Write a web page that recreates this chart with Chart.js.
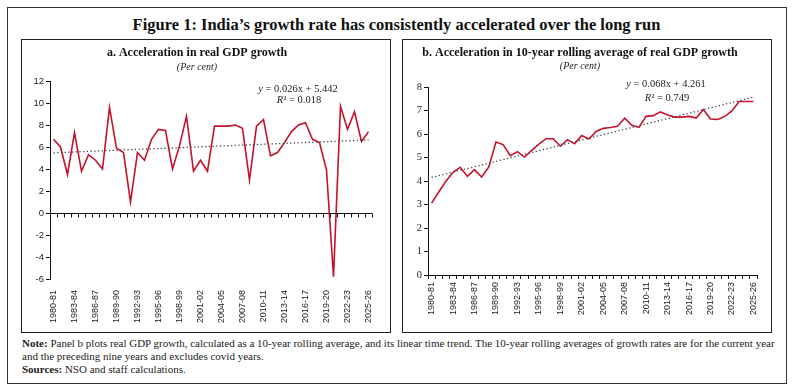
<!DOCTYPE html>
<html>
<head>
<meta charset="utf-8">
<script src="https://cdn.jsdelivr.net/npm/chart.js@4"></script>
<style>
  body { margin: 0; background: #fff; width: 793px; height: 391px; position: relative; overflow: hidden; }
  #frame { position: absolute; left: 7px; top: 7px; width: 780px; height: 377px; box-sizing: border-box; border: 1.5px solid #333; }
  #title { position: absolute; left: 0; top: 15px; width: 793px; text-align: center; font: bold 16.5px "Liberation Serif", serif; color: #111; line-height: 20px; }
  .panel { position: absolute; top: 39px; width: 370px; height: 294px; box-sizing: border-box; border: 1px solid #222; }
  .panel canvas { position: absolute; left: 0; top: 0; }
  #note { position: absolute; left: 22px; top: 337px; font: 11px "Liberation Serif", serif; color: #222; line-height: 13px; white-space: nowrap; }
</style>
</head>
<body>
<div id="frame"></div>
<div id="title">Figure 1: India’s growth rate has consistently accelerated over the long run</div>
<div class="panel" style="left:21px"><canvas id="chartA" width="368" height="292"></canvas></div>
<div class="panel" style="left:402px"><canvas id="chartB" width="368" height="292"></canvas></div>
<div id="note"><b>Note:</b> Panel b plots real GDP growth, calculated as a 10-year rolling average, and its linear time trend. The 10-year rolling averages of growth rates are for the current year<br>and the preceding nine years and excludes covid years.<br><b>Sources:</b> NSO and staff calculations.</div>

<script>
var years = ['1980-81', '1981-82', '1982-83', '1983-84', '1984-85', '1985-86', '1986-87', '1987-88', '1988-89', '1989-90',
        '1990-91', '1991-92', '1992-93', '1993-94', '1994-95', '1995-96', '1996-97', '1997-98', '1998-99', '1999-00',
        '2000-01', '2001-02', '2002-03', '2003-04', '2004-05', '2005-06', '2006-07', '2007-08', '2008-09', '2009-10',
        '2010-11', '2011-12', '2012-13', '2013-14', '2014-15', '2015-16', '2016-17', '2017-18', '2018-19', '2019-20',
        '2020-21', '2021-22', '2022-23', '2023-24', '2024-25', '2025-26'];

// panel a: real GDP growth (per cent)
var growth = [6.7, 6.0, 3.5, 7.3, 3.8, 5.3, 4.8, 4.0, 9.6, 5.9,
        5.5, 1.0, 5.5, 4.8, 6.7, 7.6, 7.5, 4.0, 6.1, 8.8,
        3.8, 4.8, 3.8, 7.9, 7.9, 7.9, 8.0, 7.7, 3.0, 7.9,
        8.5, 5.2, 5.5, 6.4, 7.4, 8.0, 8.2, 6.7, 6.4, 3.9,
        -5.8, 9.7, 7.6, 9.2, 6.5, 7.4];

// panel b: 10-year rolling average (per cent)
var rolling = [3.06, 3.53, 3.99, 4.37, 4.58, 4.20, 4.48, 4.17, 4.60, 5.66,
        5.55, 5.08, 5.25, 5.02, 5.30, 5.57, 5.80, 5.80, 5.48, 5.76,
        5.59, 5.94, 5.79, 6.11, 6.24, 6.28, 6.33, 6.67, 6.37, 6.28,
        6.75, 6.78, 6.94, 6.81, 6.72, 6.72, 6.75, 6.68, 7.04, 6.64,
        6.62, 6.75, 6.98, 7.38, 7.38, 7.38];

// linear trend end points (first year, last year)
var trendA = [5.47, 6.64];
var trendB = [4.15, 7.57];

var equationA = ['0.026x + 5.442', '0.018'];
var equationB = ['0.068x + 4.261', '0.749'];

var red = '#C4122B';

function trendSeries(ends) {
        var arr = years.map(function() { return null; });
        arr[0] = ends[0];
        arr[arr.length - 1] = ends[1];
        return arr;
}

// draws the Excel-style trend equation
var equationPlugin = {
        id: 'equation',
        afterDraw: function(chart, args, opts) {
                var ctx = chart.ctx;
                ctx.save();
                ctx.fillStyle = '#222';
                ctx.textBaseline = 'middle';
                opts.lines.forEach(function(line) {
                        var w = 0;
                        line.parts.forEach(function(p) {
                                ctx.font = (p[1] ? 'italic ' : '') + '10.5px "Liberation Serif", serif';
                                w += ctx.measureText(p[0]).width;
                        });
                        var x = line.x - w / 2;
                        line.parts.forEach(function(p) {
                                ctx.font = (p[1] ? 'italic ' : '') + '10.5px "Liberation Serif", serif';
                                ctx.fillText(p[0], x, line.y);
                                x += ctx.measureText(p[0]).width;
                        });
                });
                ctx.restore();
        }
};

// category axis drawn through zero with tick marks hanging down
var zeroAxisPlugin = {
        id: 'zeroAxis',
        afterDatasetsDraw: function(chart, args, opts) {
                if (!opts.show) return;
                var ctx = chart.ctx, area = chart.chartArea;
                var y0 = Math.round(chart.scales.y.getPixelForValue(0)) + 0.5;
                var n = chart.data.labels.length;
                var step = (area.right - area.left) / n;
                ctx.save();
                ctx.strokeStyle = '#111';
                ctx.lineWidth = 1;
                ctx.beginPath();
                ctx.moveTo(area.left, y0);
                ctx.lineTo(area.right, y0);
                for (var i = 0; i <= n; i++) {
                        var x = Math.round(area.left + i * step) + 0.5;
                        ctx.moveTo(x, y0);
                        ctx.lineTo(x, y0 + 4);
                }
                ctx.stroke();
                ctx.restore();
        }
};

function makeConfig(p) {
        return {
                type: 'line',
                data: {
                        labels: years,
                        datasets: [{
                                label: 'Linear trend',
                                data: trendSeries(p.trend),
                                borderColor: '#444',
                                borderWidth: 1.3,
                                borderDash: [1.3, 2.4],
                                pointRadius: 0,
                                spanGaps: true,
                                fill: false
                        }, {
                                label: p.name,
                                data: p.values,
                                borderColor: red,
                                backgroundColor: red,
                                borderWidth: 1.6,
                                pointRadius: 0,
                                tension: 0,
                                fill: false
                        }]
                },
                options: {
                        responsive: false,
                        animation: false,
                        layout: { padding: p.padding },
                        plugins: {
                                legend: { display: false },
                                tooltip: { enabled: false },
                                title: {
                                        display: true,
                                        text: p.title,
                                        color: '#111',
                                        font: { family: '"Liberation Serif", serif', size: 12, weight: 'bold', lineHeight: 1.25 },
                                        padding: { top: 0, bottom: 0 }
                                },
                                subtitle: {
                                        display: true,
                                        text: '(Per cent)',
                                        color: '#222',
                                        font: { family: '"Liberation Serif", serif', size: 10, style: 'italic', lineHeight: 1.2 },
                                        padding: p.subPad
                                },
                                equation: { lines: p.eq },
                                zeroAxis: { show: p.zeroAxis }
                        },
                        scales: {
                                x: {
                                        offset: true,
                                        border: { display: !p.zeroAxis, color: '#111' },
                                        grid: { display: !p.zeroAxis, drawOnChartArea: false, offset: true, tickLength: 4, color: '#111' },
                                        ticks: {
                                                autoSkip: false,
                                                maxRotation: 90,
                                                minRotation: 90,
                                                padding: p.zeroAxis ? 7 : 3,
                                                color: '#222',
                                                font: { family: '"Liberation Sans", sans-serif', size: 9 },
                                                callback: function(v, i) { return i % 3 === 0 ? years[i] : ''; }
                                        },
                                        afterFit: function(scale) { scale.height = p.xHeight; }
                                },
                                y: {
                                        min: p.min,
                                        max: p.max,
                                        border: { display: true, color: '#111' },
                                        grid: { drawOnChartArea: false, tickLength: 4, color: '#111' },
                                        ticks: {
                                                stepSize: p.step,
                                                padding: 2,
                                                color: '#222',
                                                font: p.yFont
                                        },
                                        afterFit: function(scale) { scale.width = p.yWidth; }
                                }
                        }
                },
                plugins: [equationPlugin, zeroAxisPlugin]
        };
}

window.onload = function() {
        new Chart(document.getElementById('chartA').getContext('2d'), makeConfig({
                name: 'Real GDP growth',
                title: 'a. Acceleration in real GDP growth',
                values: growth,
                trend: trendA,
                min: -6, max: 12, step: 2,
                padding: { top: 5, right: 18, left: 0, bottom: 0 },
                subPad: { top: 1, bottom: 8 },
                xHeight: 53, yWidth: 28,
                zeroAxis: true,
                yFont: { family: '"Liberation Sans", sans-serif', size: 9.5 },
                eq: [
                        { x: 276, y: 49, parts: [['y', true], [' = ' + equationA[0], false]] },
                        { x: 277, y: 60, parts: [['R', true], ['² = ' + equationA[1], false]] }
                ]
        }));
        new Chart(document.getElementById('chartB').getContext('2d'), makeConfig({
                name: '10-year rolling average',
                title: 'b. Acceleration in 10-year rolling average of real GDP growth',
                values: rolling,
                trend: trendB,
                min: 0, max: 8, step: 1,
                padding: { top: 5, right: 14, left: 0, bottom: 0 },
                subPad: { top: 0, bottom: 15 },
                xHeight: 57, yWidth: 25,
                zeroAxis: false,
                yFont: { family: '"Liberation Serif", serif', size: 10.5 },
                eq: [
                        { x: 263, y: 44, parts: [['y', true], [' = ' + equationB[0], false]] },
                        { x: 264, y: 58, parts: [['R', true], ['² = ' + equationB[1], false]] }
                ]
        }));
};
</script>
</body>
</html>
